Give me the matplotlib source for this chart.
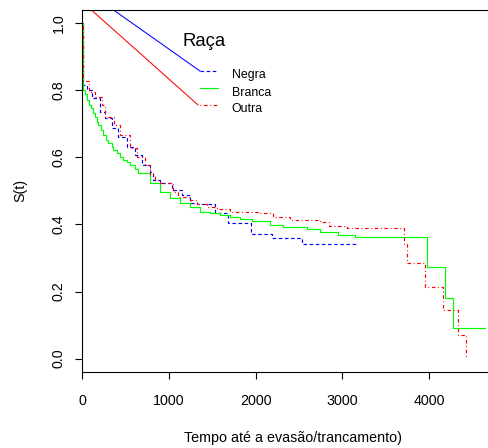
import matplotlib
matplotlib.use("Agg")
import matplotlib.pyplot as plt
from matplotlib.lines import Line2D

plt.rcParams.update({
    'font.family': ['Liberation Sans', 'DejaVu Sans'],
    'font.size': 10.3,
    'axes.linewidth': 0.8,
    'xtick.major.size': 5,
    'ytick.major.size': 5,
    'xtick.major.width': 0.8,
    'ytick.major.width': 0.8,
})

# Kaplan-Meier curves (time in days, S(t))
negra_t = [0, 5, 51, 112, 204, 262, 343, 412, 516, 608, 689, 781, 816, 897, 1035,
           1151, 1243, 1324, 1531, 1685, 1947, 2189, 2535, 3185]
negra_s = [1.0, 0.815, 0.800, 0.776, 0.735, 0.717, 0.687, 0.661, 0.632, 0.607,
           0.577, 0.556, 0.532, 0.522, 0.503, 0.488, 0.464, 0.461, 0.433, 0.405,
           0.371, 0.359, 0.342, 0.342]

branca_t = [0, 5, 31, 58, 81, 100, 127, 147, 166, 185, 212, 242, 273, 300, 339, 358,
            397, 435, 473, 512, 550, 608, 646, 781, 897, 1012, 1128, 1243, 1358,
            1473, 1589, 1704, 1820, 1958, 2166, 2316, 2593, 2743, 2951, 3147, 3974,
            4186, 4281, 4647]
branca_s = [1.0, 0.800, 0.790, 0.771, 0.756, 0.746, 0.731, 0.721, 0.706, 0.696,
            0.681, 0.666, 0.651, 0.642, 0.632, 0.622, 0.612, 0.602, 0.592, 0.585,
            0.577, 0.565, 0.552, 0.522, 0.497, 0.478, 0.463, 0.451, 0.438, 0.433,
            0.428, 0.423, 0.416, 0.410, 0.398, 0.392, 0.385, 0.376, 0.368, 0.363,
            0.272, 0.180, 0.091, 0.091]

outra_t = [0, 5, 77, 147, 227, 262, 366, 435, 550, 631, 724, 781, 839, 897, 1047,
           1105, 1243, 1324, 1439, 1555, 1704, 2051, 2204, 2397, 2743, 2850, 3051,
           3716, 3751, 3955, 4166, 4339, 4428]
outra_s = [1.0, 0.827, 0.795, 0.780, 0.756, 0.721, 0.696, 0.666, 0.627, 0.600,
           0.577, 0.547, 0.532, 0.522, 0.497, 0.483, 0.473, 0.461, 0.453, 0.446,
           0.438, 0.433, 0.422, 0.413, 0.406, 0.394, 0.388, 0.341, 0.284, 0.214,
           0.144, 0.071, 0.006]

# stray straight segments running into the legend
seg_blue_t = [354, 1358]
seg_blue_s = [1.040, 0.857]
seg_red_t = [100, 1335]
seg_red_s = [1.040, 0.756]

racas = ['Negra', 'Branca', 'Outra']
cores = ['#0000FF', '#00FF00', '#FF0000']
estilos = [(0, (3, 2.2)), '-', (0, (0.8, 2.2, 3, 2.2))]

xticks = [0, 1000, 2000, 3000, 4000]
yticks = [0.0, 0.2, 0.4, 0.6, 0.8, 1.0]

W, H = 489, 448
fig = plt.figure(figsize=(W / 100, H / 100), dpi=100)
ax = fig.add_axes([82.3 / W, 1 - 372.1 / H, 1 - 82.3 / W, (372.1 - 9.6) / H])

series = [(negra_t, negra_s), (branca_t, branca_s), (outra_t, outra_s)]
for (t, s), c, ls in zip(series, cores, estilos):
    ax.plot(t, s, drawstyle='steps-post', color=c, ls=ls, lw=0.85)

ax.plot(seg_blue_t, seg_blue_s, color='#0000FF', lw=0.75)
ax.plot(seg_red_t, seg_red_s, color='#FF0000', lw=0.75)

ax.set_xlim(0, 4693)
ax.set_ylim(-0.04, 1.04)
ax.spines['right'].set_visible(False)
ax.set_xticks(xticks)
ax.set_yticks(yticks)
ax.set_yticklabels([f'{v:.1f}' for v in yticks], rotation=90, va='center')
ax.tick_params(axis='x', pad=11)
ax.tick_params(axis='y', pad=7)

ax.set_xlabel('Tempo até a evasão/trancamento)')
ax.xaxis.set_label_coords((292.7 - 82.3) / (W - 82.3), (372.1 - 438) / (372.1 - 9.6))
ax.xaxis.label.set_va('center')
ax.set_ylabel('S(t)')
ax.yaxis.set_label_coords((20 - 82.3) / (W - 82.3), 0.5)
ax.yaxis.label.set_va('center')

# legend drawn in figure pixels to match the R layout
def fx(px):
    return px / W

def fy(py):
    return 1 - py / H

fig.text(fx(182.3), fy(46), 'Raça', fontsize=13.3, va='baseline', ha='left')
leg_y = [71, 88.3, 105]
for nome, c, ls, y in zip(racas, cores, estilos, leg_y):
    fig.add_artist(Line2D([fx(200), fx(218.5)], [fy(y), fy(y)], color=c, ls=ls,
                          lw=0.85, transform=fig.transFigure))
    fig.text(fx(231.7), fy(y + 7.3), nome, fontsize=8.9, va='baseline', ha='left')

fig.savefig('out.png', dpi=100)
